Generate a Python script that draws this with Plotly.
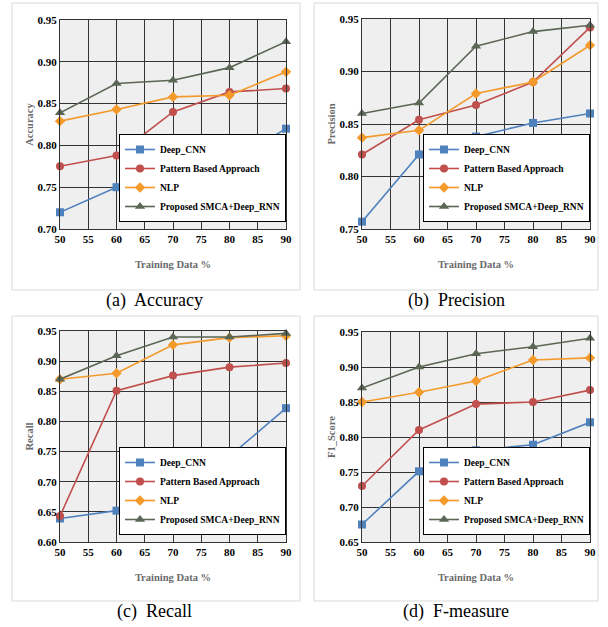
import plotly.graph_objects as go

training_pct = [50, 60, 70, 80, 90]
x_ticks = [50, 55, 60, 65, 70, 75, 80, 85, 90]
series_names = ["Deep_CNN", "Pattern Based Approach", "NLP", "Proposed SMCA+Deep_RNN"]

acc_deep_cnn = [0.720, 0.750, 0.765, 0.780, 0.820]
acc_pattern = [0.775, 0.788, 0.840, 0.864, 0.868]
acc_nlp = [0.829, 0.843, 0.858, 0.860, 0.888]
acc_proposed = [0.839, 0.874, 0.878, 0.893, 0.924]

prec_deep_cnn = [0.757, 0.821, 0.838, 0.851, 0.860]
prec_pattern = [0.821, 0.854, 0.868, 0.890, 0.942]
prec_nlp = [0.837, 0.844, 0.879, 0.890, 0.925]
prec_proposed = [0.860, 0.870, 0.924, 0.938, 0.944]

rec_deep_cnn = [0.639, 0.652, 0.672, 0.742, 0.822]
rec_pattern = [0.643, 0.851, 0.876, 0.890, 0.897]
rec_nlp = [0.870, 0.880, 0.927, 0.939, 0.942]
rec_proposed = [0.870, 0.909, 0.940, 0.940, 0.946]

f1_deep_cnn = [0.675, 0.751, 0.781, 0.789, 0.821]
f1_pattern = [0.730, 0.810, 0.847, 0.850, 0.867]
f1_nlp = [0.850, 0.864, 0.880, 0.910, 0.913]
f1_proposed = [0.870, 0.900, 0.919, 0.929, 0.941]

colors = ["#4F81BD", "#C0504D", "#F39A2B", "#5B6655"]
symbols = ["square", "circle", "diamond", "triangle-up"]

W, H = 608, 627

panels = [
    dict(ytitle="Accuracy", caption="(a)  Accuracy", yrange=[0.70, 0.95],
         data=[acc_deep_cnn, acc_pattern, acc_nlp, acc_proposed],
         px=(60, 286), py=(20, 229), box=(12, 3, 300, 290), cap=(155, 300)),
    dict(ytitle="Precision", caption="(b)  Precision", yrange=[0.75, 0.95],
         data=[prec_deep_cnn, prec_pattern, prec_nlp, prec_proposed],
         px=(362, 590), py=(19, 229), box=(314, 3, 598, 290), cap=(456, 300)),
    dict(ytitle="Recall", caption="(c)  Recall", yrange=[0.60, 0.95],
         data=[rec_deep_cnn, rec_pattern, rec_nlp, rec_proposed],
         px=(60, 286), py=(331, 542), box=(12, 316, 300, 601), cap=(155, 611)),
    dict(ytitle="F1_Score", caption="(d)  F-measure", yrange=[0.65, 0.95],
         data=[f1_deep_cnn, f1_pattern, f1_nlp, f1_proposed],
         px=(362, 590), py=(332, 542), box=(314, 316, 598, 601), cap=(456, 611)),
]

fig = go.Figure()
layout = dict(width=W, height=H, margin=dict(l=0, r=0, t=0, b=0, autoexpand=False),
              paper_bgcolor="white", plot_bgcolor="#efefef", showlegend=True)
shapes = []
annotations = []

tick_font = dict(family="Liberation Serif", size=11, color="black", weight="bold")
title_font = dict(family="Liberation Serif", size=10.5, color="#6b6b6b", weight="bold")
grid_c = "#333333"

for i, p in enumerate(panels):
    k = "" if i == 0 else str(i + 1)
    xa, ya = "xaxis" + k, "yaxis" + k
    lg = "legend" + k
    x0, x1 = p["px"][0] / W, p["px"][1] / W
    y0, y1 = 1 - p["py"][1] / H, 1 - p["py"][0] / H
    layout[xa] = dict(domain=[x0, x1], range=[50, 90], tickvals=x_ticks, anchor="y" + k,
                      automargin=False,
                      showgrid=True, gridcolor=grid_c, gridwidth=1,
                      showline=True, mirror=True, linecolor=grid_c, linewidth=1,
                      zeroline=False, ticks="", tickfont=tick_font,
                      title=dict(text="Training Data %", font=title_font, standoff=16))
    layout[ya] = dict(domain=[y0, y1], range=p["yrange"], dtick=0.05, tickformat=".2f",
                      anchor="x" + k, automargin=False,
                      showgrid=True, gridcolor=grid_c, gridwidth=1,
                      showline=True, mirror=True, linecolor=grid_c, linewidth=1,
                      zeroline=False, ticks="", tickfont=tick_font,
                      title=dict(text=p["ytitle"], font=title_font, standoff=1))
    layout[lg] = dict(x=x1, xanchor="right", y=1 - (p["py"][1] - 7) / H, yanchor="bottom",
                      bgcolor="white", bordercolor="black", borderwidth=1,
                      font=dict(family="Liberation Serif", size=9.5, color="black", weight="bold"),
                      tracegroupgap=0, itemwidth=30)
    for j, name in enumerate(series_names):
        fig.add_trace(go.Scatter(
            x=training_pct, y=p["data"][j], name=name, mode="lines+markers",
            line=dict(color=colors[j], width=1.6),
            marker=dict(symbol=symbols[j], size=8 if j != 3 else 9, color=colors[j]),
            xaxis="x" + k, yaxis="y" + k, legend=lg, cliponaxis=False))
    bx0, by0, bx1, by1 = p["box"]
    shapes.append(dict(type="rect", xref="paper", yref="paper",
                       x0=bx0 / W, x1=bx1 / W, y0=1 - by1 / H, y1=1 - by0 / H,
                       line=dict(color="#d9d9d9", width=1), layer="below"))
    annotations.append(dict(text=p["caption"], xref="paper", yref="paper",
                            x=p["cap"][0] / W, y=1 - p["cap"][1] / H, showarrow=False,
                            xanchor="center", yanchor="middle",
                            font=dict(family="Liberation Serif", size=18, color="black")))

layout["shapes"] = shapes
layout["annotations"] = annotations
fig.update_layout(**layout)
fig.write_html("out.html", config={"displayModeBar": False},
               post_script="document.body.style.margin='0px';")
